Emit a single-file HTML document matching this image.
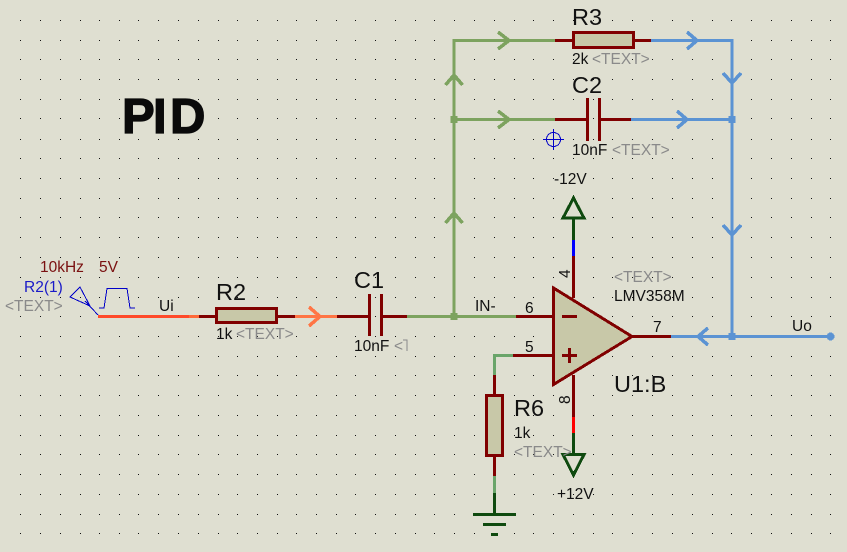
<!DOCTYPE html>
<html><head><meta charset="utf-8"><style>
html,body{margin:0;padding:0;background:#dfdfd1}
svg{display:block}
text{font-family:"Liberation Sans",sans-serif}
.s{shape-rendering:crispEdges}
</style></head><body>
<svg width="847" height="552" viewBox="0 0 847 552" xmlns="http://www.w3.org/2000/svg">
<defs><path id="r" class="s" fill="none" stroke="#111" stroke-width="1" d="M20 .5h1M40 .5h1M60 .5h1M80 .5h1M99 .5h1M119 .5h1M138 .5h1M158 .5h1M178 .5h1M198 .5h1M218 .5h1M237 .5h1M257 .5h1M277 .5h1M296 .5h1M316 .5h1M336 .5h1M355 .5h1M375 .5h1M395 .5h1M415 .5h1M434 .5h1M454 .5h1M474 .5h1M494 .5h1M514 .5h1M533 .5h1M553 .5h1M573 .5h1M593 .5h1M612 .5h1M632 .5h1M652 .5h1M672 .5h1M692 .5h1M712 .5h1M731 .5h1M751 .5h1M771 .5h1M791 .5h1M811 .5h1M830 .5h1"/></defs>
<rect width="847" height="552" fill="#dfdfd1"/>
<use href="#r" y="20"/><use href="#r" y="40"/><use href="#r" y="59"/><use href="#r" y="79"/><use href="#r" y="99"/><use href="#r" y="118"/><use href="#r" y="139"/><use href="#r" y="158"/><use href="#r" y="178"/><use href="#r" y="198"/><use href="#r" y="217"/><use href="#r" y="237"/><use href="#r" y="257"/><use href="#r" y="277"/><use href="#r" y="297"/><use href="#r" y="316"/><use href="#r" y="336"/><use href="#r" y="356"/><use href="#r" y="375"/><use href="#r" y="395"/><use href="#r" y="415"/><use href="#r" y="435"/><use href="#r" y="454"/><use href="#r" y="474"/><use href="#r" y="494"/><use href="#r" y="514"/><use href="#r" y="533"/>

<g fill="none" stroke-width="3" class="s">
<!-- green wires -->
<g stroke="#7da35f">
<path d="M454 316V40.500H555"/>
<path d="M454 119.500H555"/>
<path d="M407 316.500H516"/>
</g>
<g stroke="#7da35f" stroke-width="3.500">
<path d="M498 32L509 40.500L498 49"/>
<path d="M498 111L509 119.500L498 128"/>
<path d="M445.500 85L454 75L462.500 85"/>
<path d="M445.500 223L454 213L462.500 223"/>
</g>
<path d="M494.500 375V355.500H513" stroke="#6aa56a"/>
<path d="M494.500 476V493" stroke="#6aa56a"/>
<!-- blue wires -->
<g stroke="#5b93d3">
<path d="M651 40.500H732V336"/>
<path d="M631 119.500H732"/>
<path d="M671 336.500H830"/>
</g>
<g stroke="#5b93d3" stroke-width="3.500">
<path d="M687 32L697 40.500L687 49"/>
<path d="M677 111L687 119.500L677 128"/>
<path d="M723 73L732 83L741 73"/>
<path d="M723 225L732 235L741 225"/>
<path d="M708 328L698 336.500L708 345"/>
</g>
<!-- orange wires -->
<path d="M98 316.500H189" stroke="#ff4a2a"/>
<path d="M189 316.500H199" stroke="#ff6a3a"/>
<path d="M295 316.500H337" stroke="#ff7545"/>
<path d="M309 307L320 316.500L309 326" stroke="#ff7545" stroke-width="3.500"/>
<!-- dark red -->
<g stroke="#800000">
<path d="M199 316.500H216M277 316.500H295"/>
<path d="M337 316.500H368M382 316.500H407"/>
<path d="M369.500 294V336M381.500 294V336"/>
<path d="M555 40.500H573M633 40.500H651"/>
<path d="M555 119.500H587M600 119.500H631"/>
<path d="M587.500 98V141M599.500 98V141"/>
<path d="M516 316.500H553M513 355.500H553"/>
<path d="M573.500 256V298M573.500 375V417"/>
<path d="M633 336.500H671"/>
<path d="M494.500 375V395M494.500 455V476"/>
</g>
<path d="M573.500 240V256" stroke="#0000ff"/>
<path d="M573.500 417V433" stroke="#ff0000"/>
<!-- dark green -->
<g stroke="#0f4a0f">
<path d="M573.500 240V218M563 218H584L573.500 198Z"/>
<path d="M573.500 433V454M563 454.500H584L573.500 475Z"/>
<path d="M494.500 493V514M473 514.500H516M483 524.500H506M491 534.500H498"/>
</g>
</g>
<!-- components -->
<g fill="#c8c8a8" stroke="#800000" stroke-width="3" class="s">
<rect x="216.500" y="308.500" width="60" height="14"/>
<rect x="573.500" y="32.500" width="60" height="15"/>
<rect x="486.500" y="395.500" width="16" height="60"/>
<path d="M553.500 288L632 336.500L553.500 384.500Z" />
</g>
<path class="s" d="M562 316.500H577M562 355.500H577M569.500 348V363" stroke="#800000" stroke-width="3" fill="none"/>
<!-- junctions -->
<g fill="#7da35f" class="s"><rect x="450.500" y="313" width="7" height="7"/><rect x="450.500" y="116" width="7" height="7"/></g>
<g fill="#5b93d3" class="s"><rect x="728.500" y="116" width="7" height="7"/><rect x="728.500" y="333" width="7" height="7"/><circle cx="830.500" cy="336.500" r="4"/></g>
<!-- source -->
<g fill="none" stroke="#0000c8" stroke-width="1" class="s">
<path d="M80 287L70 297L90 306Z"/>
<path d="M85 301L98 315"/>
<path d="M99 308H104L107 288.500H127L130 308H135"/>
<circle cx="553.500" cy="139.500" r="7"/>
<path d="M543 139.500H564M553.500 129V150"/>
</g>
<!-- text -->
<g font-size="15.500">
<text x="122 153 170" y="133" font-size="49" font-weight="bold" fill="#0a0a0a" stroke="#0a0a0a" stroke-width="1.300">PID</text>
<text x="40" y="272" fill="#7a1010">10kHz</text>
<text x="99" y="272" fill="#7a1010">5V</text>
<text x="24" y="292" fill="#1a1ac8">R2(1)</text>
<text x="5" y="311" fill="#8a8a8a">&lt;TEXT&gt;</text>
<text x="159" y="311" fill="#111">Ui</text>
<text x="216" y="300" fill="#111" font-size="23.500">R2</text>
<text x="216" y="339" fill="#111">1k</text>
<text x="236" y="339" fill="#8a8a8a">&lt;TEXT&gt;</text>
<text x="354" y="288" fill="#111" font-size="23.500">C1</text>
<text x="354" y="351" fill="#111">10nF</text>
<text x="394" y="351" fill="#8a8a8a">&lt;</text>
<path d="M403 340H407V351" fill="none" stroke="#8a8a8a" stroke-width="1"/>
<text x="572" y="25" fill="#111" font-size="23.500">R3</text>
<text x="572" y="64" fill="#111">2k</text>
<text x="592" y="64" fill="#8a8a8a">&lt;TEXT&gt;</text>
<text x="572" y="93" fill="#111" font-size="23.500">C2</text>
<text x="572" y="155" fill="#111">10nF</text>
<text x="612" y="155" fill="#8a8a8a">&lt;TEXT&gt;</text>
<text x="554" y="184" fill="#111">-12V</text>
<text x="614" y="282" fill="#8a8a8a">&lt;TEXT&gt;</text>
<text x="614" y="301" fill="#111">LMV358M</text>
<text x="475" y="311" fill="#111">IN-</text>
<text x="525" y="313" fill="#111">6</text>
<text x="525" y="352" fill="#111">5</text>
<text x="653" y="332" fill="#111">7</text>
<text x="792" y="331" fill="#111">Uo</text>
<text x="614" y="392" fill="#111" font-size="23.500">U1:B</text>
<text x="514" y="416" fill="#111" font-size="23.500">R6</text>
<text x="514" y="438" fill="#111">1k</text>
<text x="514" y="457" fill="#8a8a8a">&lt;TEXT&gt;</text>
<text x="557" y="499" fill="#111">+12V</text>
<text transform="translate(570,278) rotate(-90)" fill="#111">4</text>
<text transform="translate(570,404) rotate(-90)" fill="#111">8</text>
</g>
</svg>
</body></html>
